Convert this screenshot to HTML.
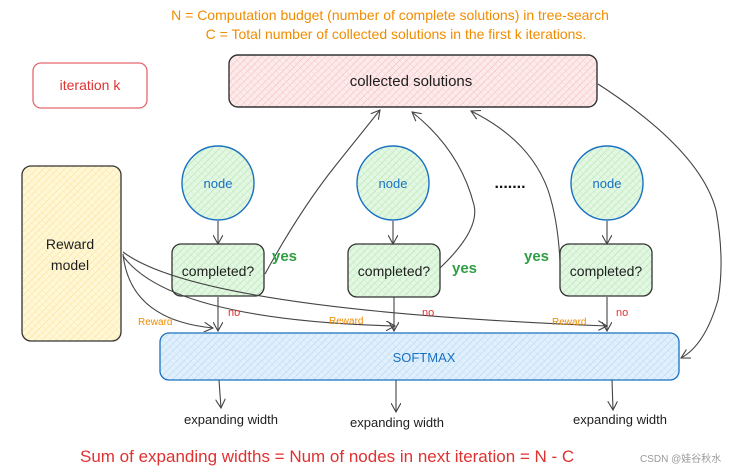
<!DOCTYPE html>
<html><head><meta charset="utf-8"><style>
html,body{margin:0;padding:0;background:#fff;width:745px;height:473px;overflow:hidden}
svg{display:block}
text{font-family:"Liberation Sans",sans-serif}
</style></head><body>
<svg width="745" height="473" viewBox="0 0 745 473" xmlns="http://www.w3.org/2000/svg">
<defs>
<pattern id="hp" width="5" height="5" patternUnits="userSpaceOnUse" patternTransform="rotate(45)"><rect width="5" height="5" fill="#fdeaea"/><line x1="0" y1="0" x2="0" y2="5" stroke="#f5b5b5" stroke-width="1"/><line x1="0" y1="0" x2="5" y2="0" stroke="#f5c8c8" stroke-width="0.6"/></pattern>
<pattern id="hy" width="5" height="5" patternUnits="userSpaceOnUse" patternTransform="rotate(45)"><rect width="5" height="5" fill="#fff7d6"/><line x1="0" y1="0" x2="0" y2="5" stroke="#f6df8a" stroke-width="1"/><line x1="0" y1="0" x2="5" y2="0" stroke="#f8e7a8" stroke-width="0.6"/></pattern>
<pattern id="hg" width="5" height="5" patternUnits="userSpaceOnUse" patternTransform="rotate(45)"><rect width="5" height="5" fill="#e3f7e3"/><line x1="0" y1="0" x2="0" y2="5" stroke="#a8e3a8" stroke-width="1"/><line x1="0" y1="0" x2="5" y2="0" stroke="#bfeabf" stroke-width="0.6"/></pattern>
<pattern id="hb" width="5" height="5" patternUnits="userSpaceOnUse" patternTransform="rotate(45)"><rect width="5" height="5" fill="#e2f0fc"/><line x1="0" y1="0" x2="0" y2="5" stroke="#a9d2f5" stroke-width="1"/><line x1="0" y1="0" x2="5" y2="0" stroke="#bddcf7" stroke-width="0.6"/></pattern>
<marker id="ar" markerWidth="10" markerHeight="10" refX="9" refY="5" orient="auto" markerUnits="userSpaceOnUse"><path d="M0,0 L9,5 L0,10" fill="none" stroke="#444" stroke-width="1.1"/></marker>
</defs>

<text x="390" y="20" font-size="14" fill="#f08c00" text-anchor="middle">N = Computation budget (number of complete solutions) in tree-search</text>
<text x="396" y="39" font-size="14" fill="#f08c00" text-anchor="middle">C = Total number of collected solutions in the first k iterations.</text>

<rect x="33" y="63" width="114" height="45" rx="8" fill="#fff" stroke="#e5686e" stroke-width="1.3"/>
<text x="90" y="90" font-size="14" fill="#e03131" text-anchor="middle">iteration k</text>

<rect x="229" y="55" width="368" height="52" rx="9" fill="url(#hp)" stroke="#333" stroke-width="1.4"/>
<text x="411" y="86" font-size="15" fill="#1e1e1e" text-anchor="middle">collected solutions</text>

<rect x="22" y="166" width="99" height="175" rx="9" fill="url(#hy)" stroke="#333" stroke-width="1.3"/>
<text x="70" y="249" font-size="14" fill="#1e1e1e" text-anchor="middle">Reward</text>
<text x="70" y="270" font-size="14" fill="#1e1e1e" text-anchor="middle">model</text>

<g stroke="#1971c2" stroke-width="1.4" fill="url(#hg)">
<ellipse cx="218" cy="183" rx="36" ry="37"/>
<ellipse cx="393" cy="183" rx="36" ry="37"/>
<ellipse cx="607" cy="183" rx="36" ry="37"/>
</g>
<g font-size="13" fill="#1971c2" text-anchor="middle">
<text x="218" y="188">node</text><text x="393" y="188">node</text><text x="607" y="188">node</text>
</g>
<text x="510" y="188" font-size="16" font-weight="bold" fill="#111" text-anchor="middle">.......</text>

<g stroke="#333" stroke-width="1.3" fill="url(#hg)">
<rect x="172" y="244" width="92" height="52" rx="9"/>
<rect x="348" y="244" width="92" height="53" rx="9"/>
<rect x="560" y="244" width="92" height="52" rx="9"/>
</g>
<g font-size="14" fill="#1e1e1e" text-anchor="middle">
<text x="218" y="276">completed?</text><text x="394" y="276">completed?</text><text x="606" y="276">completed?</text>
</g>

<rect x="160" y="333" width="519" height="47" rx="9" fill="url(#hb)" stroke="#1971c2" stroke-width="1.3"/>
<text x="424" y="362" font-size="13" fill="#1971c2" text-anchor="middle">SOFTMAX</text>

<g stroke="#444" stroke-width="1.1" fill="none" marker-end="url(#ar)">
<path d="M218,221 L218,244"/><path d="M393,221 L393,244"/><path d="M607,221 L607,244"/>
<path d="M218,297 L218,331"/><path d="M394,297 L394,331"/><path d="M607,297 L607,331"/>
<path d="M265,274 Q300,210 336,165 Q360,135 380,110"/>
<path d="M440,268 Q480,230 474,205 Q460,150 412,112"/>
<path d="M560,262 Q558,220 548,190 Q530,140 471,111"/>
<path d="M598,84 Q700,150 716,210 Q725,260 718,300 Q705,345 681,358"/>
<path d="M123,254 Q130,320 213,328"/>
<path d="M123,256 Q170,320 395,326"/>
<path d="M123,252 Q200,310 607,326"/>
<path d="M219,380 L221,408"/><path d="M396,380 L396,412"/><path d="M612,380 L613,410"/>
</g>

<g font-size="15" font-weight="bold" fill="#2f9e44">
<text x="272" y="261">yes</text><text x="452" y="273">yes</text><text x="524" y="261">yes</text>
</g>
<g font-size="11" fill="#e03131">
<text x="228" y="316">no</text><text x="422" y="316">no</text><text x="616" y="316">no</text>
</g>
<g font-size="10" fill="#f08c00">
<text x="138" y="325">Reward</text><text x="329" y="324">Reward</text><text x="552" y="325">Reward</text>
</g>

<g font-size="13" fill="#1e1e1e" text-anchor="middle">
<text x="231" y="424">expanding width</text><text x="397" y="427">expanding width</text><text x="620" y="424">expanding width</text>
</g>
<text x="80" y="462" font-size="17" fill="#e03131">Sum of expanding widths = Num of nodes in next iteration = N - C</text>
<text x="640" y="462" font-size="10" fill="#999">CSDN @娃谷秋水</text>
</svg>
</body></html>
